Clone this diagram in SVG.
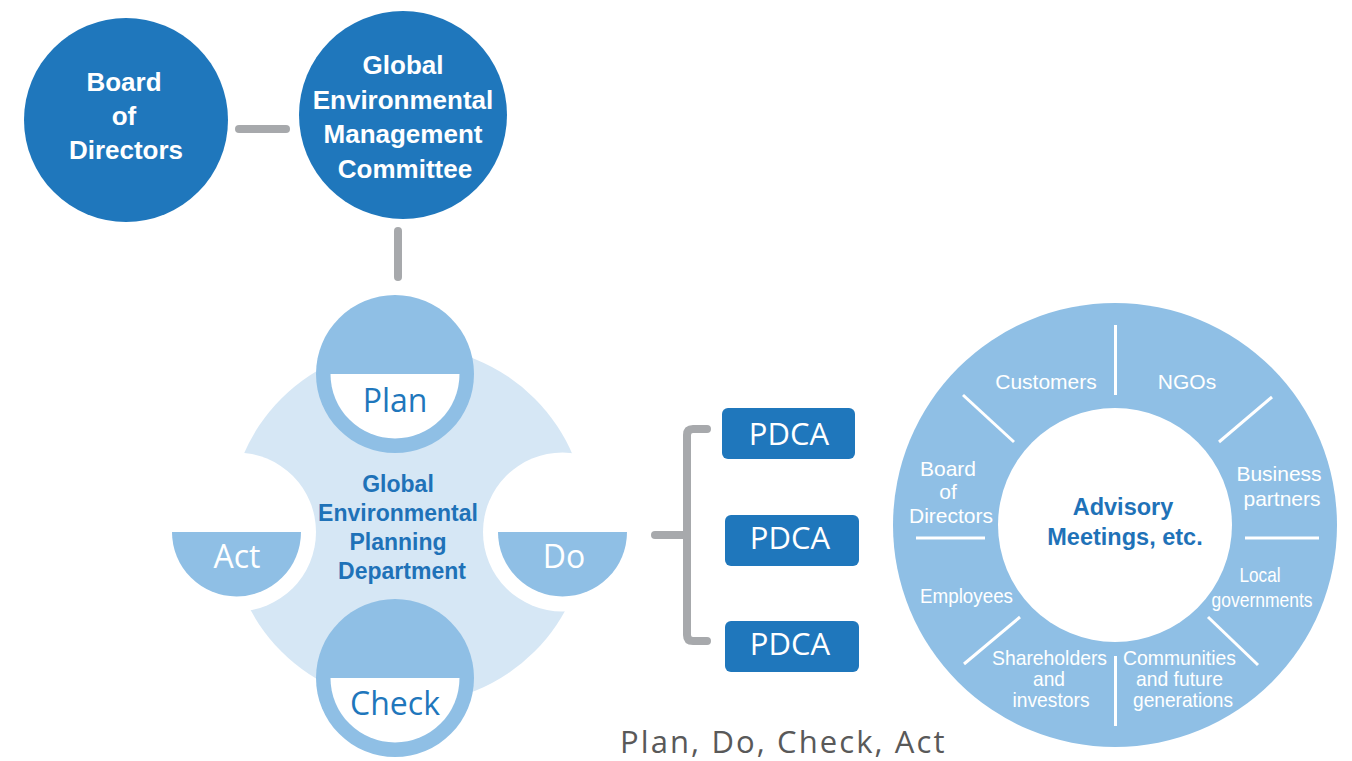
<svg xmlns="http://www.w3.org/2000/svg" width="1352" height="761" viewBox="0 0 1352 761">
<defs>
<style>
.dark{fill:#1f77bc}
.mid{fill:#8fbfe5}
.light{fill:#d6e7f5}
.white{fill:#ffffff}
.conn{stroke:#a7a9ac;stroke-width:8;stroke-linecap:round;stroke-linejoin:round;fill:none}
.div{stroke:#ffffff;stroke-width:3;fill:none}
.tb{font-family:"Liberation Sans",Arial,sans-serif;font-weight:bold;font-size:26px;fill:#ffffff;text-anchor:middle}
.tc{font-family:"Liberation Sans",Arial,sans-serif;font-weight:bold;font-size:23px;fill:#1f72b8;text-anchor:middle}
.ts{font-family:"Open Sans","Liberation Sans",sans-serif;font-size:32px;text-anchor:middle}
.tp{font-family:"Open Sans","Liberation Sans",sans-serif;font-size:31px;fill:#ffffff;text-anchor:middle}
.tr{font-family:"Liberation Sans",Arial,sans-serif;font-size:21px;fill:#ffffff;text-anchor:middle}
.cap{font-family:"Open Sans","Liberation Sans",sans-serif;font-size:31px;fill:#595959;letter-spacing:2.1px}
</style>
</defs>
<rect width="1352" height="761" fill="#ffffff"/>

<g id="connectors">
<line class="conn" x1="239" y1="129" x2="286" y2="129"/>
<line class="conn" x1="398" y1="231" x2="398" y2="277"/>
<path class="conn" d="M655,535 H687"/>
<path class="conn" d="M707,429 H693 Q687,429 687,435 V635 Q687,641 693,641 H707"/>
</g>

<g id="board">
<circle class="dark" cx="126" cy="120" r="102"/>
<text class="tb" x="124" y="91">Board</text>
<text class="tb" x="124" y="125">of</text>
<text class="tb" x="126" y="159">Directors</text>
</g>

<g id="committee">
<circle class="dark" cx="403" cy="115" r="104"/>
<text class="tb" x="403" y="74">Global</text>
<text class="tb" x="403" y="109">Environmental</text>
<text class="tb" x="403" y="143">Management</text>
<text class="tb" x="405" y="178">Committee</text>
</g>

<g id="planning-department">
<circle class="light" cx="408" cy="525" r="179"/>
<circle class="white" cx="236.5" cy="532" r="79.5"/>
<circle class="white" cx="562.5" cy="532" r="79.5"/>
<text class="tc" x="398" y="492">Global</text>
<text class="tc" x="398" y="521">Environmental</text>
<text class="tc" x="398" y="550">Planning</text>
<text class="tc" x="402" y="579">Department</text>
</g>

<g id="plan">
<circle class="mid" cx="395" cy="374" r="79"/>
<path class="white" d="M330.5,374 A64.5,64.5 0 0 0 459.5,374 Z"/>
<text class="ts" x="395" y="412" fill="#1f77bc">Plan</text>
</g>

<g id="do">
<path class="mid" d="M498,532 A64.5,64.5 0 0 0 627,532 Z"/>
<text class="ts" x="564" y="568" fill="#ffffff">Do</text>
</g>

<g id="check">
<circle class="mid" cx="395" cy="678" r="79"/>
<path class="white" d="M330.5,678 A64.5,64.5 0 0 0 459.5,678 Z"/>
<text class="ts" x="395" y="715" fill="#1f77bc">Check</text>
</g>

<g id="act">
<path class="mid" d="M172,532 A64.5,64.5 0 0 0 301,532 Z"/>
<text class="ts" x="237" y="568" fill="#ffffff">Act</text>
</g>

<g id="pdca1">
<rect class="dark" x="722" y="408" width="133" height="51" rx="6"/>
<text class="tp" x="789" y="445">PDCA</text>
</g>
<g id="pdca2">
<rect class="dark" x="725" y="515" width="134" height="51" rx="6"/>
<text class="tp" x="790" y="549">PDCA</text>
</g>
<g id="pdca3">
<rect class="dark" x="725" y="621" width="134" height="51" rx="6"/>
<text class="tp" x="790" y="655">PDCA</text>
</g>

<g id="advisory">
<circle class="mid" cx="1115" cy="525" r="222"/>
<circle class="white" cx="1115" cy="525" r="117"/>
<line class="div" x1="1115.5" y1="325" x2="1115.5" y2="395"/>
<line class="div" x1="1115.5" y1="656" x2="1115.5" y2="726"/>
<line class="div" x1="916" y1="538" x2="985" y2="538"/>
<line class="div" x1="1245" y1="538" x2="1319" y2="538"/>
<line class="div" x1="963" y1="395" x2="1014" y2="442"/>
<line class="div" x1="1272" y1="397" x2="1219" y2="442"/>
<line class="div" x1="1020" y1="617" x2="964" y2="664"/>
<line class="div" x1="1208" y1="617" x2="1258" y2="665"/>
<text class="tc" x="1123" y="515" style="font-size:23.5px">Advisory</text>
<text class="tc" x="1125" y="545" style="font-size:23.5px">Meetings, etc.</text>
</g>

<g id="stakeholders">
<text class="tr" x="1046" y="389">Customers</text>
<text class="tr" x="1187" y="389">NGOs</text>
<text class="tr" x="948" y="476">Board</text>
<text class="tr" x="948" y="499">of</text>
<text class="tr" x="951" y="523">Directors</text>
<text class="tr" x="1279" y="481">Business</text>
<text class="tr" x="1282" y="506">partners</text>
<text class="tr" x="966.5" y="603" textLength="93" lengthAdjust="spacingAndGlyphs">Employees</text>
<text class="tr" x="1260" y="582" textLength="41" lengthAdjust="spacingAndGlyphs">Local</text>
<text class="tr" x="1262" y="607" textLength="101" lengthAdjust="spacingAndGlyphs">governments</text>
<text class="tr" x="1049.5" y="665" textLength="115" lengthAdjust="spacingAndGlyphs">Shareholders</text>
<text class="tr" x="1049" y="686" textLength="32" lengthAdjust="spacingAndGlyphs">and</text>
<text class="tr" x="1051" y="707" textLength="77" lengthAdjust="spacingAndGlyphs">investors</text>
<text class="tr" x="1179.5" y="665" textLength="113" lengthAdjust="spacingAndGlyphs">Communities</text>
<text class="tr" x="1179.5" y="686" textLength="87" lengthAdjust="spacingAndGlyphs">and future</text>
<text class="tr" x="1183" y="707" textLength="100" lengthAdjust="spacingAndGlyphs">generations</text>
</g>

<g id="caption">
<text class="cap" x="620" y="753">Plan, Do, Check, Act</text>
</g>
</svg>
